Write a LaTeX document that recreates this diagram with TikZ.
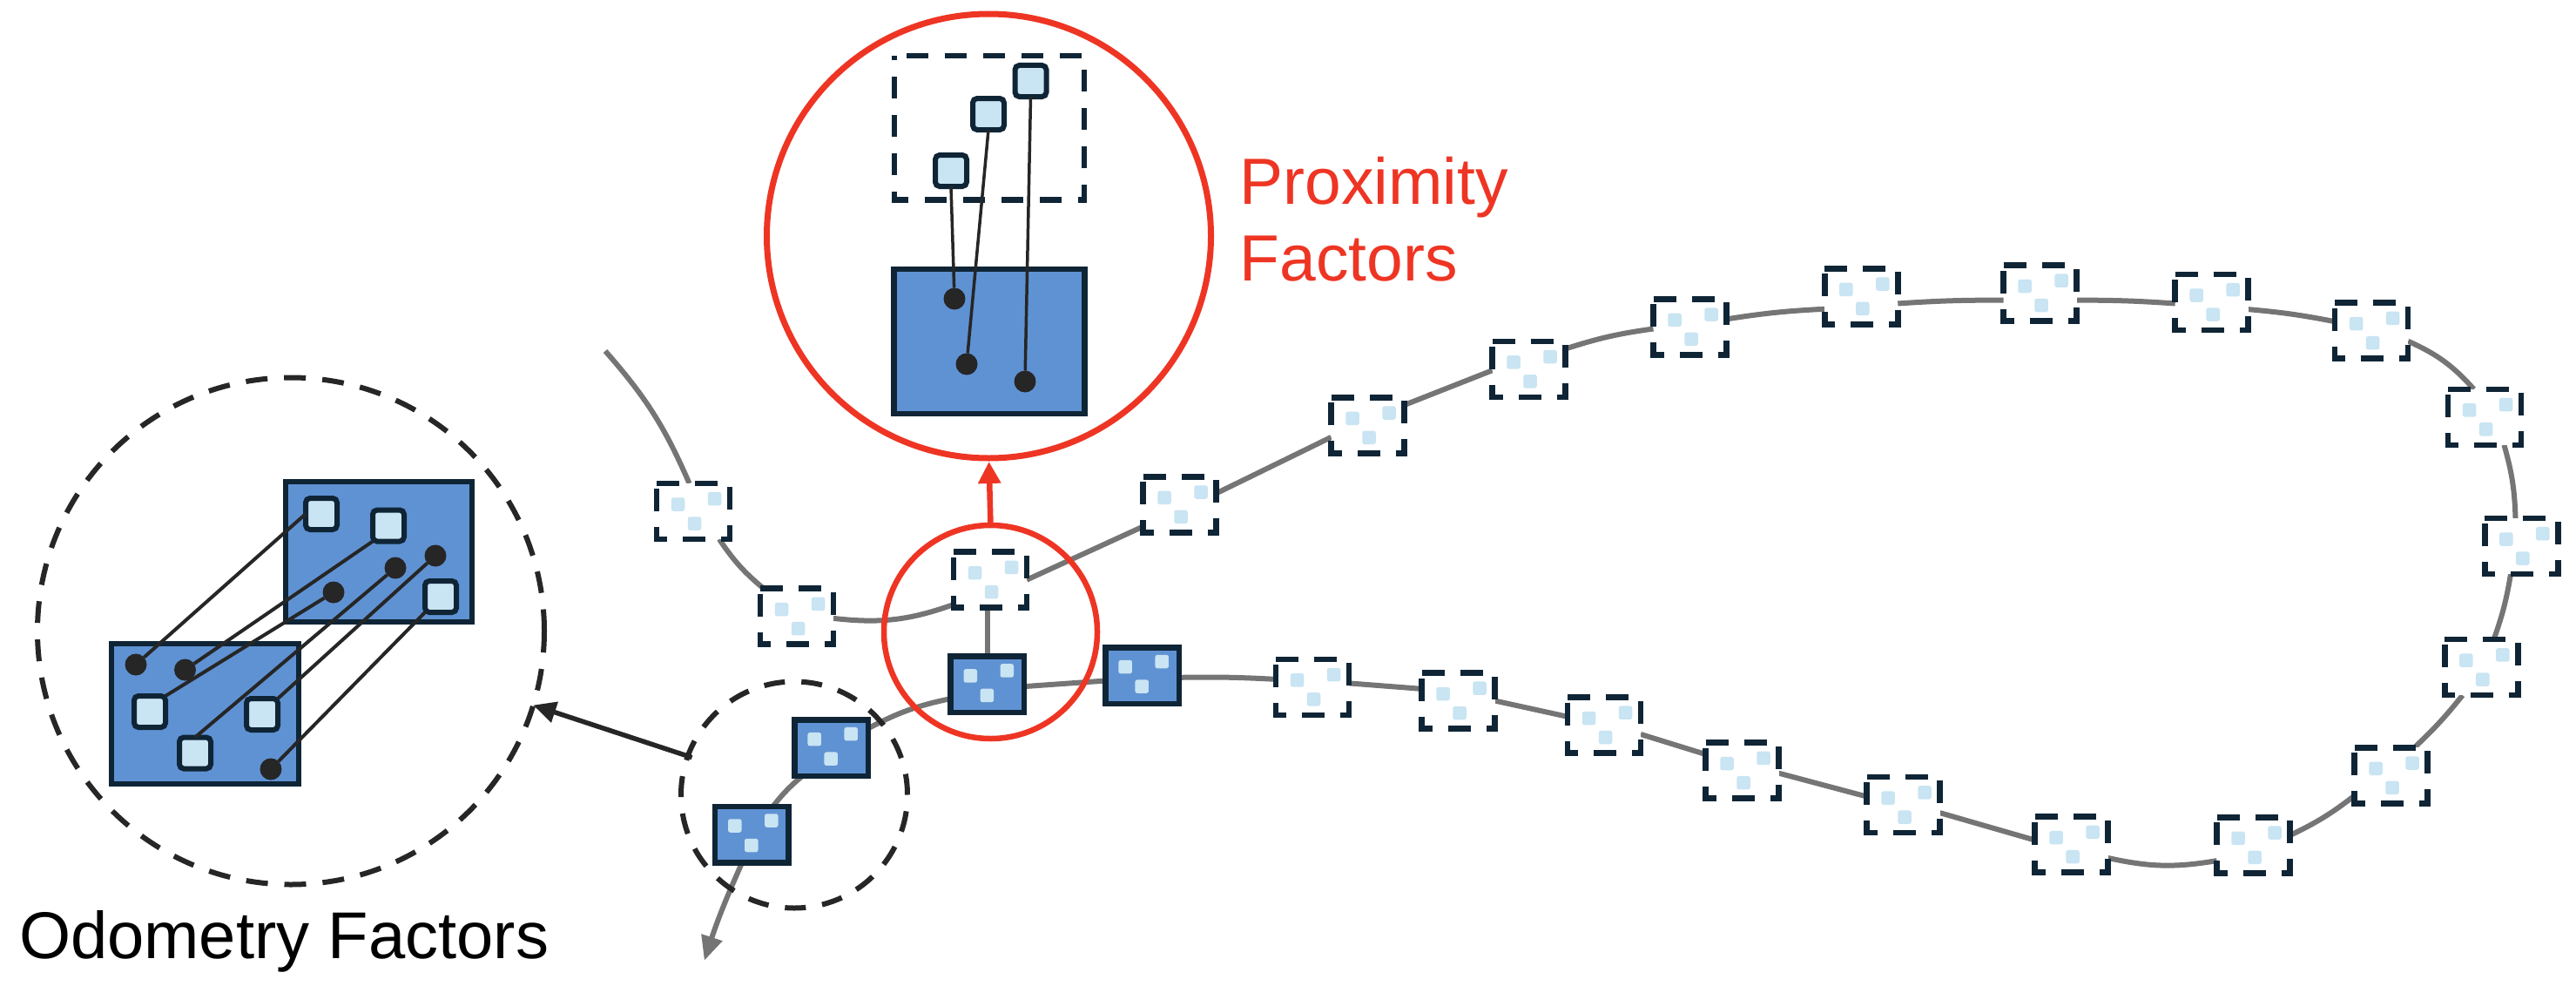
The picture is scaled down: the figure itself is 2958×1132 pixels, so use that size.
\documentclass[tikz,border=0pt]{standalone}
\usepackage{fontspec}
\setmainfont{Liberation Sans}
\usetikzlibrary{arrows.meta,backgrounds}
\definecolor{navy}{HTML}{0F2536}
\definecolor{sky}{HTML}{C9E4F2}
\definecolor{steel}{HTML}{5F92D3}
\definecolor{track}{HTML}{757575}
\definecolor{ink}{HTML}{262626}
\definecolor{alert}{HTML}{EE3524}
\tikzset{
  dbox/.style={rectangle,fill=white,minimum width=84pt,minimum height=64pt,inner sep=0pt,outer sep=0pt},
  sbox/.style={rectangle,draw=navy,line width=6.5pt,fill=steel,minimum width=84.5pt,minimum height=64.5pt,inner sep=0pt,outer sep=0pt},
  dashedge/.style={draw=navy,line width=6.5pt,dash pattern=on 26pt off 18pt,line join=miter},
  mini/.style={rectangle,fill=sky,rounded corners=2.5pt,minimum size=15.5pt,inner sep=0pt,outer sep=0pt},
  bigsq/.style={rectangle,draw=navy,line width=6pt,fill=sky,rounded corners=5pt,minimum size=36pt,inner sep=0pt,outer sep=0pt},
  bigbox/.style={rectangle,draw=navy,line width=6.5pt,fill=steel,inner sep=0pt,outer sep=0pt},
  featdot/.style={circle,fill=ink,minimum size=25pt,inner sep=0pt,outer sep=0pt},
  trk/.style={draw=track,line width=6pt},
  thinlink/.style={draw=ink,line width=4pt},
  dashring/.style={circle,draw=ink,line width=6pt,dash pattern=on 25pt off 19pt,inner sep=0pt,outer sep=0pt},
  redring/.style={circle,draw=alert,line width=7pt,inner sep=0pt,outer sep=0pt},
  lab/.style={inner sep=0pt,outer sep=0pt,anchor=base west},
}
\newcommand{\dashednode}[3]{%
  \node[dbox] (#1) at (#2,-#3) {};
  \draw[dashedge] (#1.north west) -- (#1.north east) -- (#1.south east) -- (#1.south west) -- cycle;
  \node[mini] (#1p) at (#2-17.5,-#3+8) {};
  \node[mini] (#1q) at (#2+24.5,-#3+14.3) {};
  \node[mini] (#1r) at (#2+1.5,-#3-14) {};
}
\newcommand{\solidnode}[3]{%
  \node[sbox] (#1) at (#2,-#3) {};
  \node[mini] (#1p) at (#2-19.5,-#3+10) {};
  \node[mini] (#1q) at (#2+22.5,-#3+16) {};
  \node[mini] (#1r) at (#2-0.5,-#3-12.5) {};
}
\begin{document}
\begin{tikzpicture}[x=1pt,y=1pt]
\useasboundingbox (0,0) rectangle (2958,-1132);

% rings that sit below the nodes
\node[dashring,minimum size=582pt] (bigring) at (334,-724.5) {};
\node[dashring,minimum size=260pt,dash pattern=on 24pt off 19pt] (smallring) at (912,-912.5) {};

% trajectory nodes
\dashednode{A}{796}{587}
\dashednode{B}{915}{707.7}
\dashednode{C}{1137}{665.7}
\dashednode{a}{1354.5}{579.3}
\dashednode{b}{1570.5}{488.3}
\dashednode{c}{1755.5}{423.8}
\dashednode{d}{1940.5}{375.3}
\dashednode{e}{2137.3}{340.3}
\dashednode{f}{2342.6}{336.5}
\dashednode{g}{2539.7}{347}
\dashednode{h}{2723.2}{379.7}
\dashednode{i}{2853}{478.8}
\dashednode{j}{2895.3}{627}
\dashednode{k}{2849.3}{766.2}
\dashednode{l}{2745.5}{890.3}
\dashednode{z}{2587.5}{970.3}
\dashednode{y}{2378.6}{969.7}
\dashednode{x}{2185.5}{924.2}
\dashednode{w}{2000.5}{884.7}
\dashednode{v}{1842}{832.5}
\dashednode{u}{1674.5}{804.5}
\dashednode{t}{1507}{788.8}
\solidnode{Sa}{1133.8}{785.9}
\solidnode{Sb}{1311.7}{775.6}
\solidnode{Sc}{954.7}{858.7}
\solidnode{Sd}{863.3}{958}

\coordinate (tailstart) at (695,-403);
\coordinate (tailend) at (808.8,-1102.8);

% trajectory connectors
\begin{scope}[on background layer]
\draw[trk] (tailstart) to[bend left=9] (A.98.7);
\draw[trk] (A.-47.7) to[bend right=8] (B.140.6);
\draw[trk] (B.-3.7) to[bend right=13] (C.-146);
\draw[trk] (C.0.5) -- (a.-149.7);
\draw[trk] (a.17.4) -- (b.-162.7);
\draw[trk] (b.29) -- (c.-178.4);
\draw[trk] (c.29.6) to[bend left=5] (d.-177.7);
\draw[trk] (d.12.8) to[bend left=3] (e.-161.3);
\draw[trk] (e.-11.5) to[bend left=2] (f.-169.3);
\draw[trk] (f.-11) to[bend left=2] (g.-178.3);
\draw[trk] (g.-11) to[bend left=3] (h.166.6);
\draw[trk] (h.-16.5) to[bend left=12] (i.111.4);
\draw[trk] (i.-55) to[bend left=7] (j.102.6);
\draw[trk] (j.-111.3) to[bend left=5] (k.66);
\draw[trk] (k.-124.6) to[bend left=4] (l.50.7);
\draw[trk] (l.-151.3) to[bend left=6] (z.15.2);
\draw[trk] (y.-20) to[bend right=11] (z.-157.2);
\draw[trk] (x.-12.9) -- (y.173);
\draw[trk] (w.-4.7) -- (x.167);
\draw[trk] (v.-14.6) -- (w.156.9);
\draw[trk] (u.0.3) -- (v.167.6);
\draw[trk] (t.6.2) -- (u.162.8);
\draw[trk] (Sb.-3.3) to[bend left=2] (t.168.2);
\draw[trk] (Sa.-3.6) -- (Sb.-172.5);
\draw[trk] (Sc.28.5) to[bend left=8] (Sa.-159.8);
\draw[trk] (Sd.53.1) to[bend left=6] (Sc.-136.6);
\draw[trk] (Sa.north) -- (Sa.north |- C.south);
\draw[trk,-{Triangle[length=28pt,width=24pt]}] (Sd.-109.8) to[bend right=3] (tailend);
\end{scope}

% odometry detail
\node[bigbox,minimum width=214pt,minimum height=161pt] (otop) at (435,-633.5) {};
\node[bigbox,minimum width=215pt,minimum height=161pt] (obot) at (235.5,-819.5) {};
\node[bigsq] (ot1) at (369,-590) {};
\node[bigsq] (ot2) at (446,-603.5) {};
\node[bigsq] (ot3) at (506,-685) {};
\node[bigsq] (ob1) at (172,-817) {};
\node[bigsq] (ob2) at (301,-820) {};
\node[bigsq] (ob3) at (224,-864.5) {};
\node[featdot] (od1) at (156,-763) {};
\node[featdot] (od2) at (212.5,-769) {};
\node[featdot] (od3) at (383,-680) {};
\node[featdot] (od4) at (454,-652) {};
\node[featdot] (od5) at (500,-638) {};
\node[featdot] (od6) at (311,-883) {};
\draw[thinlink] (od1) -- (ot1.west);
\draw[thinlink] (od2) -- (ot2.south west);
\draw[thinlink] (ob1.north east) -- (od3);
\draw[thinlink] (ob3.north) -- (od4);
\draw[thinlink] (ob2.north east) -- (od5);
\draw[thinlink] (od6) -- (ot3.south west);

% proximity detail
\node[redring,minimum size=510pt] (bigred) at (1135.5,-271) {};
\node[rectangle,minimum width=218pt,minimum height=165.5pt,inner sep=0pt,outer sep=0pt] (pframe) at (1136,-146.75) {};
\draw[draw=navy,line width=6.5pt,dash pattern=on 25pt off 19pt,dash phase=30pt,line join=miter]
  (pframe.north west) -- (pframe.north east) -- (pframe.south east) -- (pframe.south west) -- cycle;
\node[bigbox,minimum width=219pt,minimum height=166pt] (pbox) at (1136,-392) {};
\node[bigsq] (ps1) at (1092,-196) {};
\node[bigsq] (ps2) at (1135,-131) {};
\node[bigsq] (ps3) at (1183.5,-93) {};
\node[featdot] (pd1) at (1096,-343) {};
\node[featdot] (pd2) at (1110,-418) {};
\node[featdot] (pd3) at (1177,-438) {};
\draw[thinlink,line width=3.5pt] (ps1.south) -- (pd1);
\draw[thinlink,line width=3.5pt] (ps2.south) -- (pd2);
\draw[thinlink,line width=3.5pt] (ps3.south) -- (pd3);

% small rings and arrows
\node[redring,line width=6.5pt,minimum size=245pt] (smallred) at (1137.5,-725.5) {};
\draw[draw=alert,line width=6.5pt,shorten >=4pt,-{Triangle[length=25pt,width=25pt]}] (smallred.north) -- (bigred.south);
\draw[draw=ink,line width=5.5pt,shorten <=-5pt,-{Triangle[length=26pt,width=24pt]}] (smallring.160.6) -- (bigring.-17.6);

% labels
\node[lab,text=alert,font=\fontsize{75}{88}\selectfont] (prox) at (1423.5,-234) {Proximity};
\node[lab,text=alert,font=\fontsize{75}{88}\selectfont] (fact) at (1423.5,-322) {Factors};
\node[lab,text=black,font=\fontsize{76}{90}\selectfont] (odo) at (22,-1100) {Odometry Factors};
\end{tikzpicture}
\end{document}
